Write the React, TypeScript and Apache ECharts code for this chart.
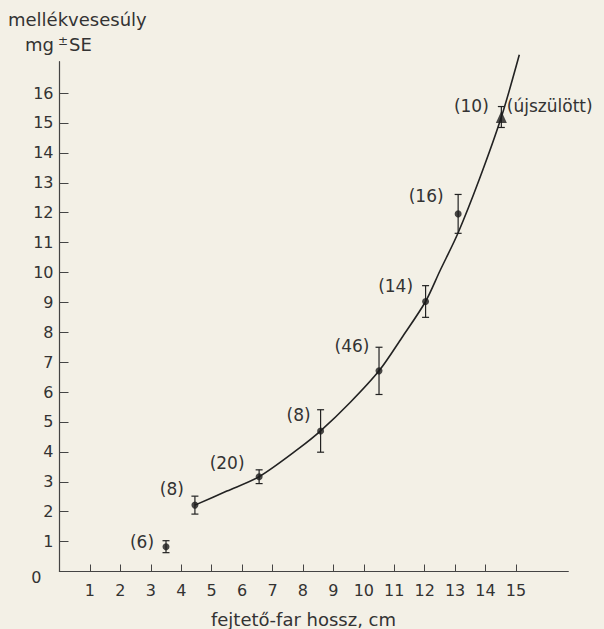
import React, { useEffect, useRef } from "react";
import * as echarts from "echarts";

// ---- data ----
const xTicks = [1, 2, 3, 4, 5, 6, 7, 8, 9, 10, 11, 12, 13, 14, 15];
const yTicks = [0, 1, 2, 3, 4, 5, 6, 7, 8, 9, 10, 11, 12, 13, 14, 15, 16];

const pointX = [3.5, 4.45, 6.56, 8.58, 10.5, 12.03, 13.1];
const pointY = [0.83, 2.22, 3.17, 4.7, 6.71, 9.03, 11.96];
const pointSE = [0.2, 0.3, 0.23, 0.71, 0.79, 0.53, 0.65];
const pointN = ["(6)", "(8)", "(20)", "(8)", "(46)", "(14)", "(16)"];

const newbornX = [14.52];
const newbornY = [15.2];
const newbornSE = [0.35];
const newbornN = ["(10)"];
const newbornName = "(újszülött)";

const curveX = [4.45, 5.5, 6.56, 7.9, 8.58, 9.55, 10.5, 11.25, 12.03, 12.5, 13.1, 13.79, 14.52, 15.11];
const curveY = [2.22, 2.69, 3.17, 4.14, 4.7, 5.65, 6.71, 7.82, 9.03, 10.05, 11.33, 13.1, 15.2, 17.28];

const yName1 = "mellékvesesúly";
const xName = "fejtető-far hossz, cm";

// label offsets (style / placement, not data)
const pointLabelOffsets: [number, number][] = [
  [-24, -5],
  [-23, -16],
  [-32, -14],
  [-22, -16],
  [-27, -25],
  [-30, -16],
  [-32, -18],
];

const FONT = "'DejaVu Sans', 'Liberation Sans', sans-serif";
const INK = "#333333";
const BG = "#f3f0e6";

export default function App() {
  const ref = useRef<HTMLDivElement>(null);

  useEffect(() => {
    if (!ref.current) return;
    const chart = echarts.init(ref.current, undefined, { renderer: "svg" });

    const errData = pointX
      .map((x, i) => [x, pointY[i], pointSE[i]])
      .concat(newbornX.map((x, i) => [x, newbornY[i], newbornSE[i]]));

    const labelBase = {
      show: true,
      position: "inside",
      color: INK,
      opacity: 1,
      fontFamily: FONT,
      fontSize: 17,
      textBorderWidth: 0,
    };

    const option: any = {
      animation: false,
      backgroundColor: BG,
      grid: { left: 59.5, right: 35.7, top: 61.7, bottom: 57.5 },
      xAxis: {
        type: "value",
        min: 0,
        max: 16.72,
        interval: 1,
        axisLine: { lineStyle: { color: "#444", width: 1.2 } },
        axisTick: { inside: true, length: 7, customValues: xTicks, lineStyle: { color: "#444", width: 1 } },
        axisLabel: {
          customValues: xTicks,
          margin: 11,
          color: INK,
          fontFamily: FONT,
          fontSize: 16,
        },
        splitLine: { show: false },
      },
      yAxis: {
        type: "value",
        min: 0,
        max: 17.05,
        interval: 1,
        axisLine: { show: true, lineStyle: { color: "#444", width: 1.2 } },
        axisTick: {
          show: true,
          inside: true,
          length: 9,
          customValues: yTicks.filter((v) => v > 0),
          lineStyle: { color: "#444", width: 1 },
        },
        axisLabel: {
          customValues: yTicks,
          margin: 6,
          color: INK,
          fontFamily: FONT,
          fontSize: 16,
          formatter: (v: number) => (v === 0 ? "{z|0}" : String(v)),
          rich: { z: { padding: [12, 12, 0, 0], color: INK, fontFamily: FONT, fontSize: 16 } },
        },
        splitLine: { show: false },
      },
      graphic: [
        {
          type: "text",
          left: 8,
          top: 10,
          style: { text: yName1, fill: INK, font: `18px ${FONT}` },
        },
        {
          type: "text",
          left: 25,
          top: 35,
          style: {
            text: "mg{pm|±}SE",
            fill: INK,
            font: `18px ${FONT}`,
            rich: { pm: { fontSize: 12, fontFamily: FONT, fill: INK, padding: [0, 1, 6, 4] } },
          },
        },
        {
          type: "text",
          x: 303.5,
          y: 619,
          style: { text: xName, fill: INK, font: `18px ${FONT}`, align: "center", verticalAlign: "middle" },
        },
      ],
      series: [
        {
          type: "line",
          data: curveX.map((x, i) => [x, curveY[i]]),
          smooth: 0.3,
          showSymbol: false,
          clip: false,
          lineStyle: { color: "#222", width: 1.6 },
          z: 2,
        },
        {
          type: "custom",
          data: errData,
          z: 3,
          renderItem: (params: any, api: any) => {
            const x = api.value(0);
            const y = api.value(1);
            const e = api.value(2);
            const top = api.coord([x, y + e]);
            const bot = api.coord([x, y - e]);
            const hw = 3.5;
            const st = { stroke: "#222", lineWidth: 1.2 };
            return {
              type: "group",
              children: [
                { type: "line", shape: { x1: top[0], y1: top[1], x2: bot[0], y2: bot[1] }, style: st },
                { type: "line", shape: { x1: top[0] - hw, y1: top[1], x2: top[0] + hw, y2: top[1] }, style: st },
                { type: "line", shape: { x1: bot[0] - hw, y1: bot[1], x2: bot[0] + hw, y2: bot[1] }, style: st },
              ],
            };
          },
        },
        {
          type: "scatter",
          symbol: "circle",
          symbolSize: 7,
          itemStyle: { color: "#1c1c1c" },
          z: 4,
          data: pointX.map((x, i) => ({
            value: [x, pointY[i]],
            label: { ...labelBase, offset: pointLabelOffsets[i], formatter: pointN[i] },
          })),
        },
        {
          type: "scatter",
          symbol: "triangle",
          symbolSize: [11, 12],
          itemStyle: { color: "#1c1c1c" },
          z: 4,
          data: newbornX.map((x, i) => ({
            value: [x, newbornY[i]],
            label: { ...labelBase, offset: [-30, -11], formatter: newbornN[i] },
          })),
        },
        {
          type: "scatter",
          symbolSize: 0,
          silent: true,
          z: 4,
          data: newbornX.map((x, i) => ({
            value: [x, newbornY[i]],
            label: { ...labelBase, align: "left", offset: [5.5, -11], formatter: newbornName },
          })),
        },
      ],
    };

    chart.setOption(option);
    return () => chart.dispose();
  }, []);

  return (
    <div
      ref={ref}
      style={{ position: "fixed", left: 0, top: 0, width: 604, height: 629, background: BG }}
    />
  );
}
